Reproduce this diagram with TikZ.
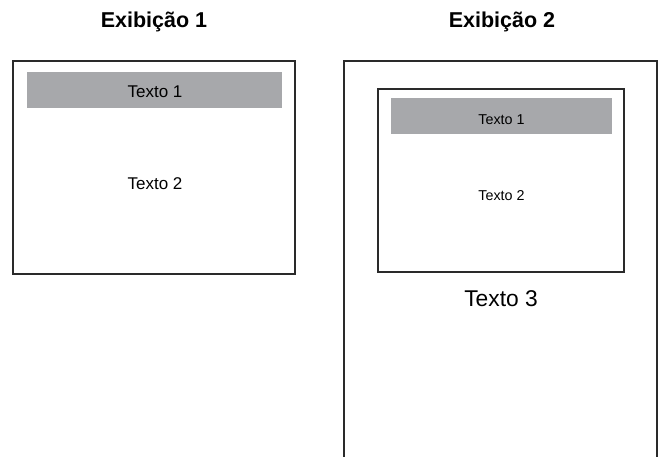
\documentclass[tikz,border=0pt]{standalone}
\usepackage{fontspec}
\setmainfont{Liberation Sans}
\definecolor{bargray}{HTML}{A7A8AB}
\definecolor{framegray}{HTML}{2A2A2A}
\begin{document}
\begin{tikzpicture}[x=1pt,y=-1pt,
  frame/.style={draw=framegray,line width=1.3pt,anchor=north west,inner sep=0pt,outer sep=0pt},
  bar/.style={fill=bargray,anchor=north west,inner sep=0pt,outer sep=0pt},
  title/.style={font=\bfseries\fontsize{21.5}{24}\selectfont,anchor=base},
  bigtxt/.style={font=\fontsize{17}{20}\selectfont,anchor=base},
  smalltxt/.style={font=\fontsize{14.3}{17}\selectfont,anchor=base},
  hugetxt/.style={font=\fontsize{22.8}{26}\selectfont,anchor=base}]
\useasboundingbox (0,0) rectangle (661,456);
% Exhibit 1
\node[title] (t1) at (154,27) {Exibição 1};
\node[frame,minimum width=282pt,minimum height=213pt] (box1) at (13,61) {};
\node[bar,minimum width=255pt,minimum height=36pt] (bar1) at (27,72) {};
\node[bigtxt] (a1) at (155,97) {Texto 1};
\node[bigtxt] (a2) at (155,189) {Texto 2};
% Exhibit 2
\node[title] (t2) at (502,27) {Exibição 2};
\node[frame,minimum width=313pt,minimum height=420pt] (box2) at (344,61) {};
\node[frame,minimum width=246pt,minimum height=183pt] (box3) at (378,89) {};
\node[bar,minimum width=221pt,minimum height=36pt] (bar2) at (391,98) {};
\node[smalltxt] (b1) at (501.5,124) {Texto 1};
\node[smalltxt] (b2) at (501.5,200.5) {Texto 2};
\node[hugetxt] (b3) at (501,306) {Texto 3};
\end{tikzpicture}
\end{document}
